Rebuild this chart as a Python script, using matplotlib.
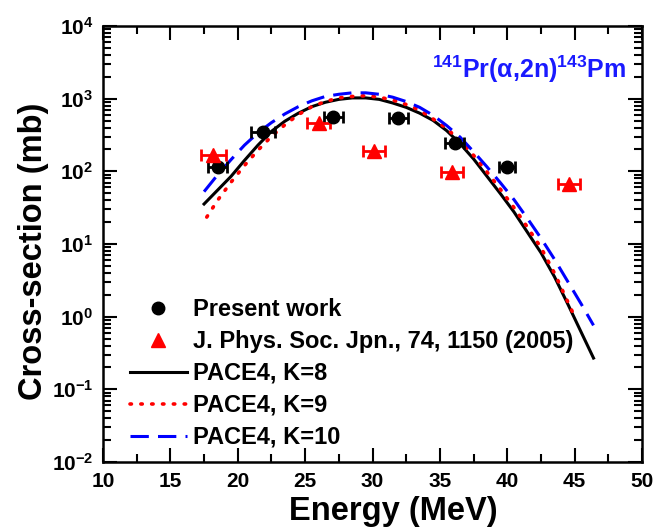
import numpy as np
import matplotlib
matplotlib.use("Agg")
import matplotlib.pyplot as plt
from matplotlib.ticker import MultipleLocator, LogLocator, NullFormatter, FixedLocator, FixedFormatter

plt.rcParams['font.family'] = ['Liberation Sans', 'DejaVu Sans']
plt.rcParams['font.weight'] = 'bold'
plt.rcParams['mathtext.fontset'] = 'custom'
plt.rcParams['mathtext.rm'] = 'Liberation Sans:bold'
plt.rcParams['mathtext.it'] = 'Liberation Sans:bold'
plt.rcParams['mathtext.bf'] = 'Liberation Sans:bold'
plt.rcParams['mathtext.default'] = 'rm'

# Present work
pw_E = [18.5, 21.9, 27.1, 31.9, 36.1, 40.0]
pw_xs = [115, 348, 560, 542, 245, 115]
pw_dE = [0.7, 0.9, 0.7, 0.7, 0.7, 0.6]

# J. Phys. Soc. Jpn. 74, 1150 (2005)
jp_E = [18.2, 26.0, 30.1, 35.9, 44.6]
jp_xs = [168, 462, 191, 98, 67]
jp_dE = [0.9, 0.85, 0.8, 0.8, 0.8]

# PACE4 K=8
k8_E = [17.5, 18.5, 19.5, 20.5, 21.5, 22.5, 23.5, 24.5, 25.5, 26.5, 27.5, 28.5, 29.5,
        30.5, 31.5, 32.5, 33.5, 34.5, 35.5, 36.5, 37.5, 38.5, 39.5, 40.5, 41.5, 42.5,
        43.5, 44.5, 45.5, 46.4]
k8_log = [1.55, 1.74, 1.93, 2.15, 2.36, 2.55, 2.69, 2.80, 2.89, 2.95, 2.99, 3.01, 3.01,
          2.99, 2.94, 2.88, 2.80, 2.70, 2.56, 2.38, 2.17, 1.93, 1.69, 1.44, 1.16, 0.88,
          0.55, 0.17, -0.22, -0.57]

# PACE4 K=9
k9_E = [17.7, 18.5, 19.5, 20.5, 21.5, 22.5, 23.5, 24.5, 25.5, 26.5, 27.5, 28.5, 29.5,
        30.5, 31.5, 32.5, 33.5, 34.5, 35.5, 36.5, 37.5, 38.5, 39.5, 40.5, 41.5, 42.5,
        43.5, 44.5, 44.9]
k9_log = [1.37, 1.60, 1.85, 2.08, 2.29, 2.48, 2.64, 2.78, 2.89, 2.96, 3.01, 3.03, 3.04,
          3.02, 2.98, 2.92, 2.84, 2.72, 2.59, 2.42, 2.22, 1.99, 1.75, 1.50, 1.23, 0.95,
          0.60, 0.20, 0.04]

# PACE4 K=10
k10_E = [17.5, 18.5, 19.5, 20.5, 21.5, 22.5, 23.5, 24.5, 25.5, 26.5, 27.5, 28.5, 29.5,
         30.5, 31.5, 32.5, 33.5, 34.5, 35.5, 36.5, 37.5, 38.5, 39.5, 40.5, 41.5, 42.5,
         43.5, 44.5, 45.5, 46.4]
k10_log = [1.72, 1.95, 2.16, 2.36, 2.53, 2.67, 2.79, 2.89, 2.97, 3.03, 3.06, 3.08, 3.08,
           3.06, 3.02, 2.96, 2.88, 2.77, 2.63, 2.47, 2.27, 2.06, 1.84, 1.61, 1.35, 1.08,
           0.79, 0.48, 0.17, -0.12]

x_ticks = [10, 15, 20, 25, 30, 35, 40, 45, 50]
y_exps = [-2, -1, 0, 1, 2, 3, 4]

fig = plt.figure(figsize=(6.56, 5.29), dpi=100)
ax = fig.add_axes([0.157, 0.1267, 0.8217, 0.8242])

ax.plot(k8_E, 10 ** np.array(k8_log), color='black', lw=2.2, label='PACE4, K=8', zorder=2)
ax.plot(k9_E, 10 ** np.array(k9_log), color='red', lw=2.6, linestyle=(0, (0.4, 2.6)),
        dash_capstyle='round', label='PACE4, K=9', zorder=3)
ax.plot(k10_E, 10 ** np.array(k10_log), color='#0000ff', lw=2.2, linestyle=(0, (6, 3)),
        label='PACE4, K=10', zorder=3)

ax.errorbar(pw_E, pw_xs, xerr=pw_dE, fmt='none', ecolor='black', elinewidth=2,
            capsize=4.5, capthick=2, zorder=4)
ax.plot(pw_E, pw_xs, 'o', color='black', ms=9, label='Present work', zorder=5, linestyle='none')
ax.errorbar(jp_E, jp_xs, xerr=jp_dE, fmt='none', ecolor='red', elinewidth=2,
            capsize=4.5, capthick=2, zorder=4)
ax.plot(jp_E, jp_xs, '^', color='red', ms=10, label='J. Phys. Soc. Jpn., 74, 1150 (2005)',
        zorder=5, linestyle='none')

ax.set_yscale('log')
ax.set_xlim(10, 50)
ax.set_ylim(1e-2, 1e4)

ax.xaxis.set_major_locator(FixedLocator(x_ticks))
ax.xaxis.set_major_formatter(FixedFormatter([str(v) for v in x_ticks]))
ax.xaxis.set_minor_locator(MultipleLocator(2.5))
ax.yaxis.set_major_locator(FixedLocator([10.0 ** e for e in y_exps]))
ax.yaxis.set_major_formatter(FixedFormatter([r'$10^{%d}$' % e for e in y_exps]))
ax.yaxis.set_minor_locator(LogLocator(base=10, subs=np.arange(2, 10), numticks=20))
ax.yaxis.set_minor_formatter(NullFormatter())

for s in ax.spines.values():
    s.set_linewidth(1.8)
ax.tick_params(which='both', direction='in', top=True, right=True, width=1.5)
ax.tick_params(which='major', length=10, labelsize=15)
ax.tick_params(axis='x', which='major', pad=7)
ax.tick_params(axis='y', which='major', pad=7)
ax.tick_params(which='minor', length=5.5)

ax.set_xlabel('Energy (MeV)', fontsize=23.5, fontweight='bold')
ax.xaxis.set_label_coords(0.538, -0.113, transform=ax.transAxes)
ax.xaxis.label.set_va('center')
ax.set_ylabel('Cross-section (mb)', fontsize=23.5, fontweight='bold', labelpad=2)
ax.yaxis.label.set_y(0.484)

ax.text(0.97, 0.90, r'$^{141}$Pr(α,2n)$^{143}$Pm', transform=ax.transAxes, color='#1a1aff',
        fontsize=18, fontweight='bold', ha='right', va='center')

h, l = ax.get_legend_handles_labels()
order = [3, 4, 0, 1, 2]
leg = ax.legend([h[i] for i in order], [l[i] for i in order], loc='upper left',
                bbox_to_anchor=(0.05, 0.376), frameon=False,
                borderaxespad=0, borderpad=0, handlelength=2.4, handletextpad=0.25,
                labelspacing=0.38, prop={'weight': 'bold', 'size': 17})

fig.savefig('out.png', dpi=100)
